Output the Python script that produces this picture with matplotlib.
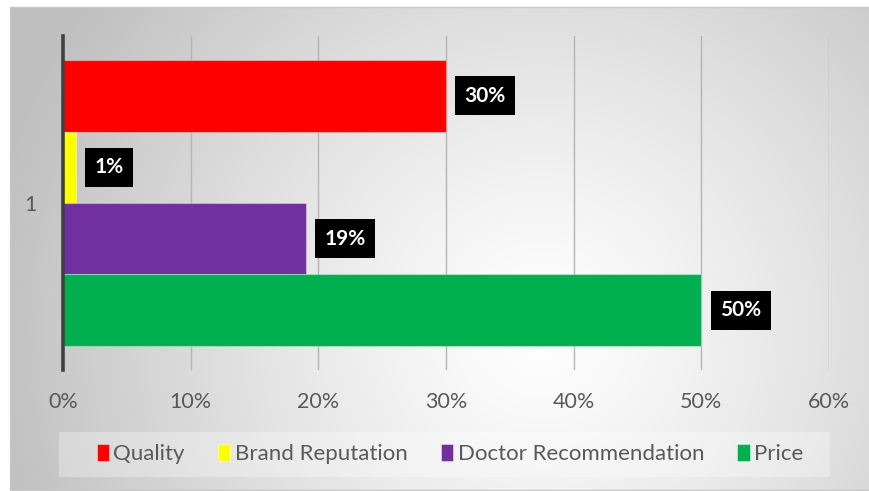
import numpy as np
import matplotlib.pyplot as plt
from matplotlib.patches import Rectangle

# Survey shares per purchase factor
factors = ["Quality", "Brand Reputation", "Doctor Recommendation", "Price"]
shares = [30, 1, 19, 50]
colors = ["#FF0000", "#FFFF00", "#7030A0", "#00B050"]
category = "1"
xticks = [0, 10, 20, 30, 40, 50, 60]

W, H = 870, 491
plt.rcParams["font.family"] = ["Lato", "DejaVu Sans"]

fig = plt.figure(figsize=(W / 100, H / 100), dpi=100)
fig.patch.set_facecolor("white")


def fx(px):
    return px / W


def fy(py):
    return 1 - py / H


# Radial gradient chart background
bg = fig.add_axes([fx(10), fy(491), fx(870) - fx(10), fy(7) - fy(491)])
gx, gy = np.meshgrid(np.arange(10, 870), np.arange(7, 491))
r = np.hypot(gx - 540, gy - 330) / 560
r = np.clip(r, 0, 1)
shade = 1 - 0.25 * r ** 1.2
bg.imshow(np.dstack([shade] * 3), aspect="auto", extent=(0, 1, 0, 1), interpolation="bilinear")
bg.set_axis_off()
fig.add_artist(Rectangle((fx(10), fy(490)), fx(870) - fx(10), fy(7) - fy(490),
                         transform=fig.transFigure, fill=False, edgecolor="#c8c8c8", lw=1))

# Main axes
ax = fig.add_axes([fx(63), fy(370), fx(829) - fx(63), fy(36) - fy(370)])
ax.patch.set_alpha(0)

ypos = np.arange(len(factors))
bars = ax.barh(ypos, shares, height=1.0, color=colors, edgecolor=(1, 1, 1, 0.35), lw=0.8, zorder=3)

pad_units = 0.336
ax.set_ylim(len(factors) - 0.5 + pad_units, -0.5 - pad_units)
ax.set_xlim(0, 60)

for b, v in zip(bars, shares):
    ax.annotate(f"{v}%", (v, b.get_y() + b.get_height() / 2), xytext=(13.5, 0),
                textcoords="offset points", ha="left", va="center",
                fontsize=15, fontweight="bold", color="white",
                bbox=dict(boxstyle="square,pad=0.45", fc="black", ec="none"), zorder=4)

ax.set_xticks(xticks)
ax.set_xticklabels([f"{t}%" for t in xticks])
ax.set_yticks([(len(factors) - 1) / 2])
ax.set_yticklabels([category])
ax.tick_params(axis="both", length=0, colors="#595959", labelsize=15.5)
ax.tick_params(axis="x", pad=16)
ax.tick_params(axis="y", pad=19)

ax.grid(axis="x", color="#b4b4b4", lw=1, zorder=1)
for side in ["top", "right", "bottom"]:
    ax.spines[side].set_visible(False)
ax.spines["left"].set_color("#404040")
ax.spines["left"].set_linewidth(2.6)
ax.spines["left"].set_zorder(5)

# Legend box along the bottom
fig.add_artist(Rectangle((fx(59), fy(477)), fx(830) - fx(59), fy(432) - fy(477),
                         transform=fig.transFigure, facecolor="white", alpha=0.3,
                         edgecolor="none"))
handles = [Rectangle((0, 0), 1, 1, fc=c, ec=(1, 1, 1, 0.5), lw=0.6) for c in colors]
fig.legend(handles, factors, loc="center", bbox_to_anchor=(fx(450), fy(454)), ncol=4,
           frameon=False, fontsize=16, labelcolor="#595959", handlelength=0.55,
           handleheight=0.8, handletextpad=0.2, columnspacing=1.5)

fig.savefig("out.png", dpi=100)
